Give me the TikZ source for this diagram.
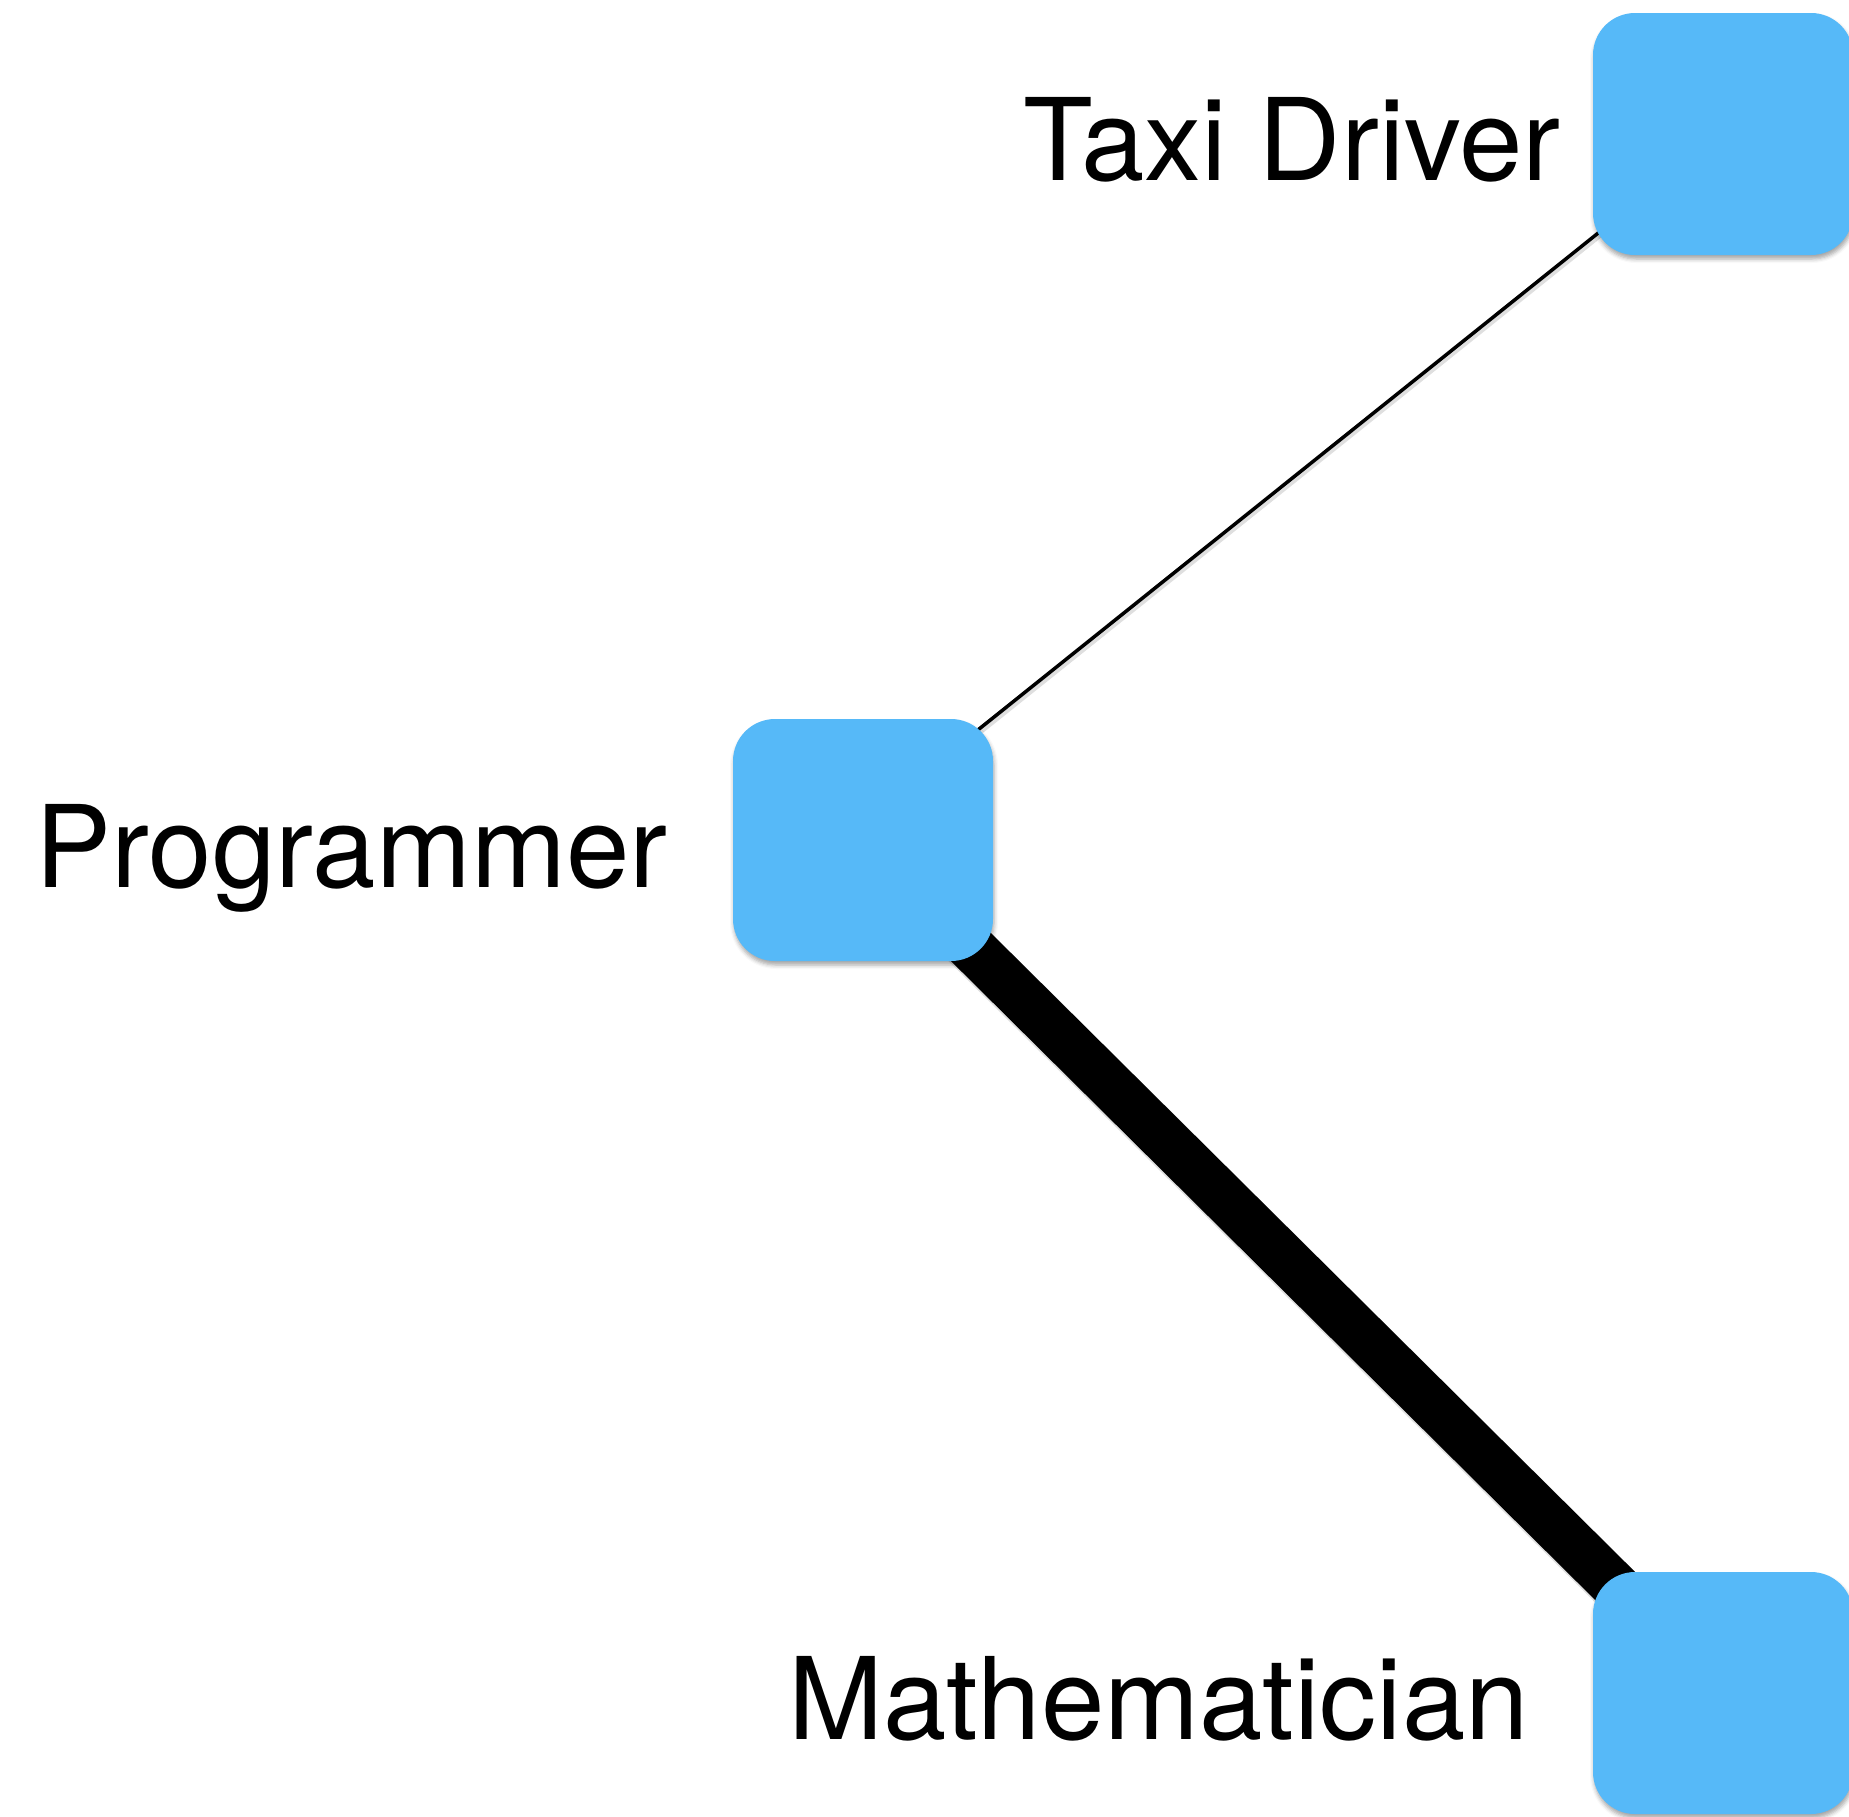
\documentclass[tikz,border=0pt]{standalone}
\usepackage{fontspec}
\setmainfont{TeX Gyre Heros}
\usetikzlibrary{shadows.blur}
\definecolor{nodeblue}{RGB}{86,185,248}
\tikzset{
  card/.style={rectangle, fill=nodeblue, draw=none, inner sep=0pt,
    minimum width=260pt, minimum height=242pt, rounded corners=42pt,
    blur shadow={shadow xshift=1pt, shadow yshift=-4pt,
      shadow blur radius=4pt, shadow opacity=35}},
  lbl/.style={inner sep=0pt, font=\fontsize{114}{130}\selectfont},
  thinlink/.style={line width=3.5pt, black},
  thicklink/.style={line width=48pt, black},
  linkshade/.style={gray, opacity=0.25}
}
\begin{document}
\begin{tikzpicture}[x=1pt, y=-1pt]
  \useasboundingbox (0,0) rectangle (1849,1816);
  % positions of the three roles
  \coordinate (taxipos) at (1723,134);
  \coordinate (progpos) at (863,840);
  \coordinate (mathpos) at (1723,1693);
  % links, with a faint shade under each
  \draw[linkshade, line width=5pt] ([xshift=1pt,yshift=15pt]progpos) -- ([xshift=1pt,yshift=-2pt]taxipos);
  \draw[linkshade, line width=50pt] ([xshift=2pt,yshift=-3pt]progpos) -- ([xshift=2pt,yshift=-3pt]mathpos);
  \draw[thinlink] ([yshift=18pt]progpos) -- ([yshift=1pt]taxipos);
  \draw[thicklink] (progpos) -- (mathpos);
  % role cards
  \node[card] (taxi) at (taxipos) {};
  \node[card] (prog) at (progpos) {};
  \node[card] (math) at (mathpos) {};
  % labels
  \node[lbl, anchor=base west] (taxilbl) at (1023,180) {Taxi Driver};
  \node[lbl, anchor=base west] (proglbl) at (35,887) {Programmer};
  \node[lbl, anchor=base west] (mathlbl) at (788,1739) {Mathematician};
\end{tikzpicture}
\end{document}
